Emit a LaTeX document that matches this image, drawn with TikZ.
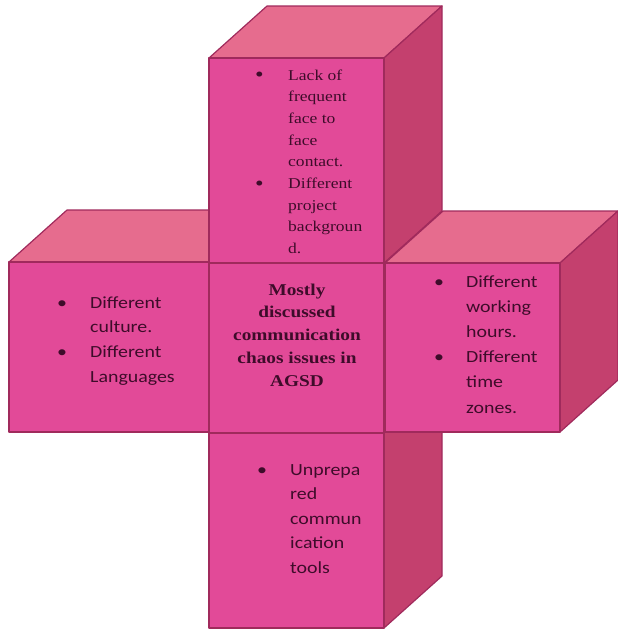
\documentclass[tikz,border=0pt]{standalone}
\usepackage{fontspec}
\setmainfont{Liberation Serif}[FakeStretch=1.17]
\newfontfamily\sansf{Carlito}[FakeStretch=1.17]
\definecolor{frontc}{RGB}{226,74,152}
\definecolor{topc}{RGB}{230,108,142}
\definecolor{sidec}{RGB}{196,64,110}
\definecolor{edgec}{RGB}{160,42,92}
\definecolor{textc}{RGB}{62,12,42}
\tikzset{
  face/.style={draw=edgec,line width=1.2pt,line join=round},
  txt/.style={inner sep=0pt,anchor=base west,text=textc},
}
\newcommand\cubebox[4]{%
  \filldraw[face,fill=topc] (#1,#2) -- (#1+58,#2-52) -- (#3+58,#2-52) -- (#3,#2) -- cycle;
  \filldraw[face,fill=sidec] (#3,#2) -- (#3+58,#2-52) -- (#3+58,#4-52) -- (#3,#4) -- cycle;
  \filldraw[face,fill=frontc] (#1,#2) rectangle (#3,#4);}
\newcommand\sbul{{\fontsize{21}{21}\selectfont\raisebox{-0.08em}{\textbullet}}}
\begin{document}
\begin{tikzpicture}[x=1pt,y=-1pt]
\useasboundingbox (0,0) rectangle (618,633);
% cubes, back to front
\cubebox{9}{262}{209}{432}
\cubebox{209}{58}{384}{263}
\cubebox{209}{433}{384}{628}
\cubebox{385}{263}{560}{432}
\filldraw[face,fill=frontc] (209,263) rectangle (384,433);
% texts
\node[txt] (topt) at (255,80) {\fontsize{15}{21.7}\selectfont
  \begin{tabular}[t]{@{}p{33pt}@{}l@{}}
  \sbul & Lack of\\ & frequent\\ & face to\\ & face\\ & contact.\\
  \sbul & Different\\ & project\\ & backgroun\\ & d.
  \end{tabular}};
\node[txt] (leftt) at (57,308) {\sansf\fontsize{17}{24.7}\selectfont
  \begin{tabular}[t]{@{}p{33pt}@{}l@{}}
  \textbullet & Different\\ & culture.\\ \textbullet & Different\\ & Languages
  \end{tabular}};
\node[txt] (rightt) at (434,287) {\sansf\fontsize{17}{25.2}\selectfont
  \begin{tabular}[t]{@{}p{32pt}@{}l@{}}
  \textbullet & Different\\ & working\\ & hours.\\ \textbullet & Different\\ & time\\ & zones.
  \end{tabular}};
\node[txt] (bott) at (257,475) {\sansf\fontsize{17}{24.5}\selectfont
  \begin{tabular}[t]{@{}p{33pt}@{}l@{}}
  \textbullet & Unprepa\\ & red\\ & commun\\ & ication\\ & tools
  \end{tabular}};
\node[inner sep=0pt,anchor=base,text=textc] (ctr) at (297,295) {\bfseries\fontsize{16.5}{22.8}\selectfont
  \begin{tabular}[t]{@{}c@{}}
  Mostly\\ discussed\\ communication\\ chaos issues in\\ AGSD
  \end{tabular}};
\end{tikzpicture}
\end{document}
